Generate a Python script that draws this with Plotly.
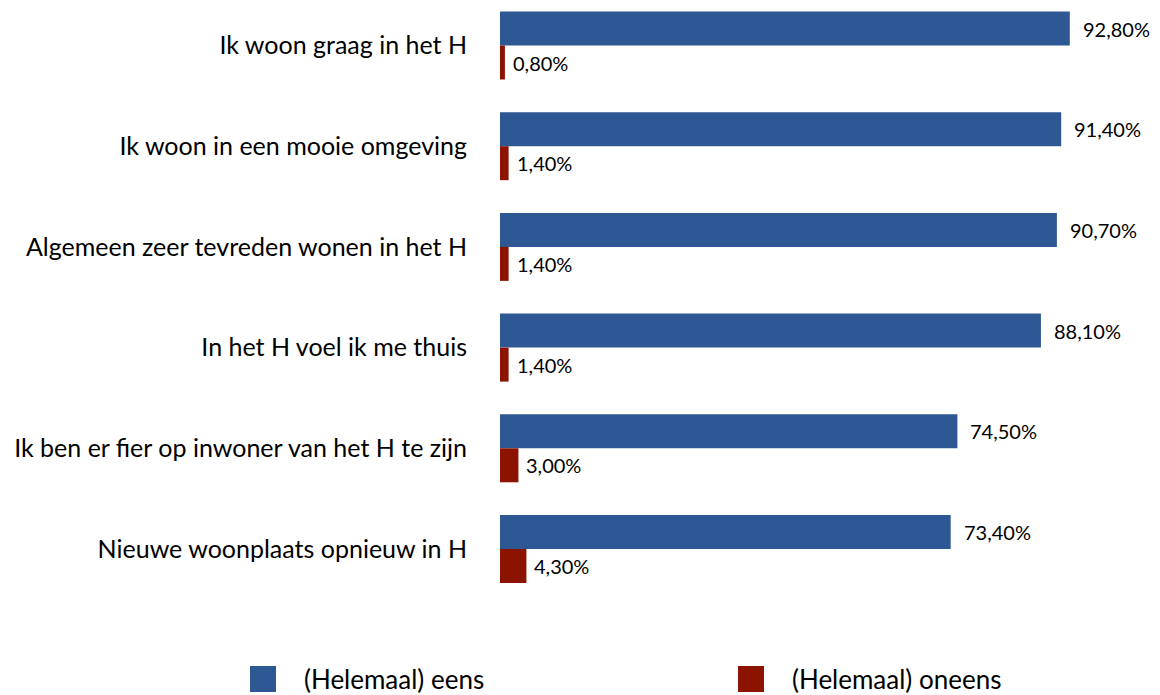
import plotly.graph_objects as go

categories = [
    "Ik woon graag in het H",
    "Ik woon in een mooie omgeving",
    "Algemeen zeer tevreden wonen in het H",
    "In het H voel ik me thuis",
    "Ik ben er fier op inwoner van het H te zijn",
    "Nieuwe woonplaats opnieuw in H",
]
eens = [92.8, 91.4, 90.7, 88.1, 74.5, 73.4]
oneens = [0.8, 1.4, 1.4, 1.4, 3.0, 4.3]
series_names = ["(Helemaal) eens", "(Helemaal) oneens"]

BLUE = "#2E5893"
RED = "#8B1300"
FONT = "Lato"

# the page body has an 8px default margin, so the figure is 8px smaller
W, H = 1152, 687
LEFT, RIGHT, TOP, BOTTOM = 492, 46, 0, 75
plot_w, plot_h = W - LEFT - RIGHT, H - TOP - BOTTOM


def fmt(v):
    return f"{v:.2f}".replace(".", ",") + "%"


fig = go.Figure()
fig.add_trace(go.Bar(y=categories, x=eens, orientation="h", name=series_names[0],
                     marker=dict(color=BLUE, line=dict(width=0)), showlegend=False))
fig.add_trace(go.Bar(y=categories, x=oneens, orientation="h", name=series_names[1],
                     marker=dict(color=RED, line=dict(width=0)), showlegend=False))

annotations = []
for cat, v in zip(categories, eens):
    annotations.append(dict(x=v, y=cat, text=fmt(v), xref="x", yref="y", xanchor="left",
                            yanchor="middle", xshift=11, yshift=17, showarrow=False,
                            font=dict(family=FONT, size=20, color="black")))
for cat, v in zip(categories, oneens):
    annotations.append(dict(x=v, y=cat, text=fmt(v), xref="x", yref="y", xanchor="left",
                            yanchor="middle", xshift=6, yshift=-17, showarrow=False,
                            font=dict(family=FONT, size=20, color="black")))


def px_x(p):
    return (p - LEFT) / plot_w


def px_y(p):
    return (TOP + plot_h - p) / plot_h


# custom legend (large square swatches), figure-pixel positions
shapes = []
legend_items = [(series_names[0], BLUE, 242), (series_names[1], RED, 730)]
for name, col, x0 in legend_items:
    shapes.append(dict(type="rect", xref="paper", yref="paper",
                       x0=px_x(x0), x1=px_x(x0 + 26), y0=px_y(684), y1=px_y(658),
                       fillcolor=col, line=dict(width=0), layer="above"))
    annotations.append(dict(x=px_x(x0 + 52), y=px_y(671), xref="paper", yref="paper",
                            text=name, xanchor="left", yanchor="middle", showarrow=False,
                            font=dict(family=FONT, size=26, color="black")))

fig.update_layout(
    width=W, height=H,
    margin=dict(l=LEFT, r=RIGHT, t=TOP, b=BOTTOM, pad=0, autoexpand=False),
    barmode="group", bargap=0.325, bargroupgap=0,
    plot_bgcolor="white", paper_bgcolor="white",
    font=dict(family=FONT, size=25, color="black"),
    xaxis=dict(range=[0, 100], visible=False),
    yaxis=dict(type="category", range=[5.705, -0.3724], showgrid=False, showline=False,
               zeroline=False, ticks="", ticklabelstandoff=32,
               tickfont=dict(family=FONT, size=25, color="black")),
    annotations=annotations,
    shapes=shapes,
    showlegend=False,
)

fig.write_html("out.html")
